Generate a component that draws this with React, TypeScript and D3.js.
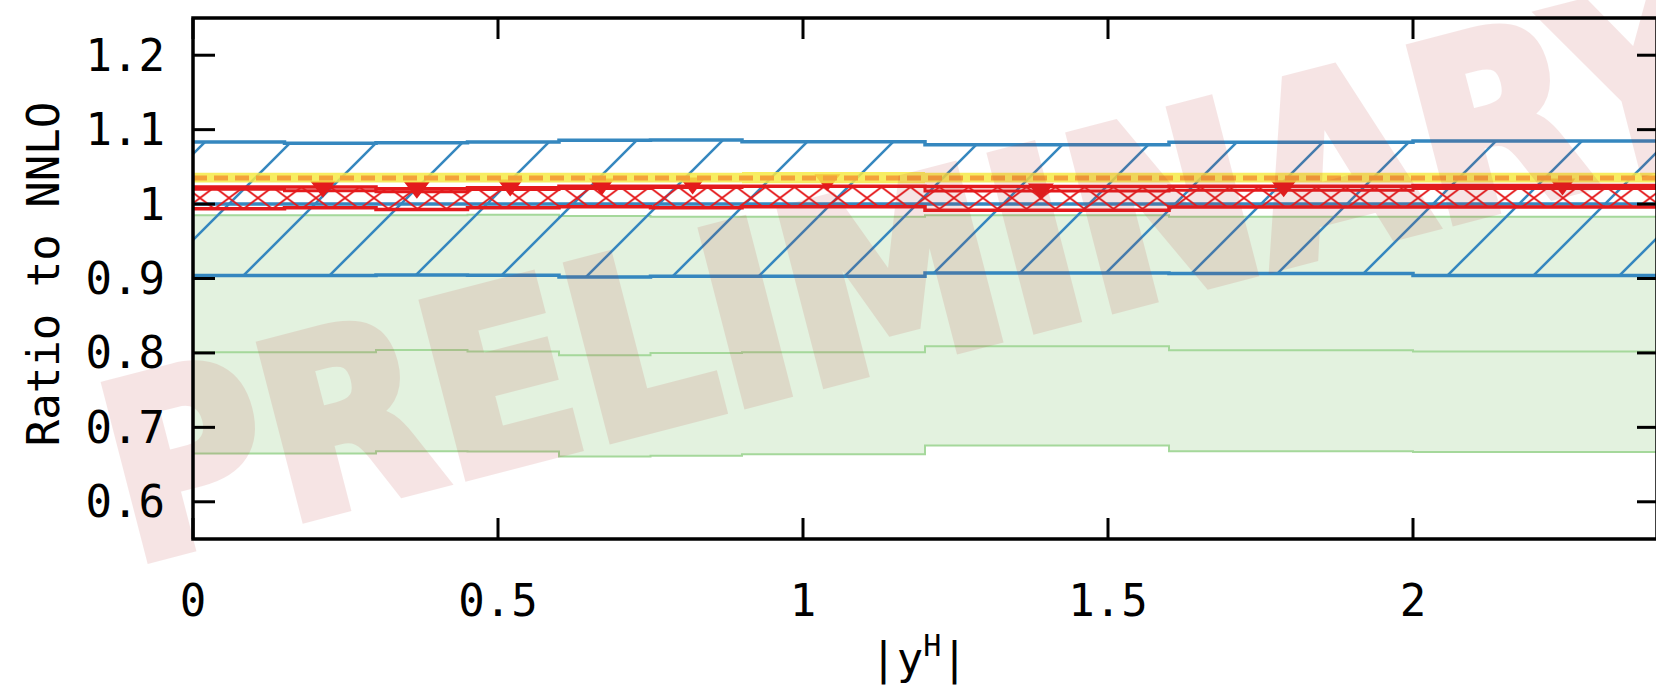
import React from "react";
import * as d3 from "d3";

// ---------- data ----------
const binEdges = [0, 0.15, 0.3, 0.45, 0.6, 0.75, 0.9, 1.2, 1.6, 2.0, 2.5];

const greenCentral = [0.801, 0.801, 0.804, 0.802, 0.797, 0.8, 0.801, 0.809, 0.8035, 0.802];
const greenLow = [0.665, 0.665, 0.668, 0.6675, 0.661, 0.662, 0.664, 0.6755, 0.668, 0.667];
const greenHigh = [0.985, 0.985, 0.985, 0.9855, 0.984, 0.983, 0.983, 0.985, 0.983, 0.983];

const blueCentral = [1.0, 1.0, 1.0, 1.0, 1.0, 1.0, 1.0, 1.0, 1.0, 1.0];
const blueLow = [0.9039, 0.9039, 0.9048, 0.9043, 0.9021, 0.903, 0.903, 0.9075, 0.9066, 0.904];
const blueHigh = [1.0834, 1.0816, 1.0825, 1.0834, 1.0856, 1.0861, 1.0838, 1.0798, 1.083, 1.0847];

const redLow = [0.9936, 0.995, 0.9927, 0.995, 0.9963, 0.995, 0.9963, 0.9918, 0.9959, 0.9959];
const redHigh = [1.0228, 1.0228, 1.0206, 1.0219, 1.0241, 1.0241, 1.0241, 1.0235, 1.024, 1.0248];
const redCentral = [1.02, 1.0179, 1.0166, 1.0197, 1.021, 1.0223, 1.0235, 1.0174, 1.0187, 1.021];

const markerX = [0.213, 0.367, 0.52, 0.67, 0.819, 1.04, 1.39, 1.788, 2.245];
const markerY = [1.0179, 1.0166, 1.0197, 1.021, 1.0223, 1.0265, 1.0143, 1.0187, 1.021];

const yellowLow = [1.029, 1.029, 1.029, 1.029, 1.029, 1.029, 1.028, 1.029, 1.029, 1.029];
const yellowHigh = [1.042, 1.042, 1.042, 1.042, 1.042, 1.042, 1.043, 1.042, 1.042, 1.042];
const orangeCentral = [1.035, 1.035, 1.035, 1.035, 1.035, 1.035, 1.035, 1.035, 1.035, 1.035];

const xTicks = [0, 0.5, 1, 1.5, 2];
const xTickLabels = ["0", "0.5", "1", "1.5", "2"];
const yTicks = [0.6, 0.7, 0.8, 0.9, 1.0, 1.1, 1.2];
const yTickLabels = ["0.6", "0.7", "0.8", "0.9", "1", "1.1", "1.2"];

// ---------- layout ----------
const W = 1656;
const H = 687;
const L = 193;
const R = 1657;
const T = 18;
const B = 539;

const x = d3.scaleLinear().domain([0, 2.4]).range([L, R]);
const y = d3.scaleLinear().domain([0.55, 1.25]).range([B, T]);

function stepPts(vals: number[]): [number, number][] {
  const pts: [number, number][] = [];
  vals.forEach((v, i) => {
    pts.push([binEdges[i], v]);
    pts.push([binEdges[i + 1], v]);
  });
  return pts;
}

function stepBand(lo: number[], hi: number[]) {
  const pts = lo.map((_, i) => i).flatMap((i) => [
    { x: binEdges[i], lo: lo[i], hi: hi[i] },
    { x: binEdges[i + 1], lo: lo[i], hi: hi[i] },
  ]);
  return d3
    .area<any>()
    .x((d) => x(d.x))
    .y0((d) => y(d.lo))
    .y1((d) => y(d.hi))(pts) as string;
}

const line = d3
  .line<[number, number]>()
  .x((d) => x(d[0]))
  .y((d) => y(d[1]));

const FONT = "'DejaVu Sans Mono', monospace";
const FS = 44;
const BLUE = "#3587bf";
const RED = "#e41a1c";
const GREEN_LINE = "#a5d89b";

export default function App() {
  return (
    <svg
      width={W}
      height={H}
      style={{ position: "absolute", left: 0, top: 0, background: "#fff" }}
    >
      <defs>
        <clipPath id="plotClip">
          <rect x={L} y={T} width={R - L} height={B - T} />
        </clipPath>
        <pattern
          id="blueHatch"
          patternUnits="userSpaceOnUse"
          width={86}
          height={86}
          patternTransform="translate(3,0)"
        >
          <path
            d="M-86,172 L172,-86 M-86,86 L86,-86 M0,172 L172,0"
            stroke={BLUE}
            strokeWidth={2.6}
            fill="none"
          />
        </pattern>
        <pattern
          id="redHatch"
          patternUnits="userSpaceOnUse"
          width={29}
          height={22}
          patternTransform="translate(185.5,187)"
        >
          <path
            d="M-29,-22 L58,44 M-29,44 L58,-22"
            stroke={RED}
            strokeWidth={1.8}
            fill="none"
          />
        </pattern>
      </defs>

      <g clipPath="url(#plotClip)">
        {/* green band */}
        <path d={stepBand(greenLow, greenHigh)} fill="#e3f2df" />
        <path d={line(stepPts(greenLow)) as string} fill="none" stroke={GREEN_LINE} strokeWidth={2} />
        <path d={line(stepPts(greenHigh)) as string} fill="none" stroke={GREEN_LINE} strokeWidth={2} />
        <path d={line(stepPts(greenCentral)) as string} fill="none" stroke={GREEN_LINE} strokeWidth={2} />

        {/* blue band */}
        <path d={stepBand(blueLow, blueHigh)} fill="url(#blueHatch)" />
        <path d={line(stepPts(blueLow)) as string} fill="none" stroke={BLUE} strokeWidth={3.5} />
        <path d={line(stepPts(blueHigh)) as string} fill="none" stroke={BLUE} strokeWidth={3.5} />
        <path d={line(stepPts(blueCentral)) as string} fill="none" stroke={BLUE} strokeWidth={3.5} />

        {/* red band */}
        <path d={stepBand(redLow, redHigh)} fill="url(#redHatch)" />
        <path d={line(stepPts(redLow)) as string} fill="none" stroke={RED} strokeWidth={3.5} />
        <path d={line(stepPts(redHigh)) as string} fill="none" stroke={RED} strokeWidth={3.5} />
        <path d={line(stepPts(redCentral)) as string} fill="none" stroke={RED} strokeWidth={3} />
        {markerX.map((mx, i) => {
          const cx = x(mx);
          const cy = y(markerY[i]);
          return (
            <path
              key={i}
              d={`M${cx - 13},${cy - 10} L${cx + 13},${cy - 10} L${cx},${cy + 7} Z`}
              fill={RED}
            />
          );
        })}

        {/* yellow band */}
        <path d={stepBand(yellowLow, yellowHigh)} fill="#f6ea45" fillOpacity={0.85} />
        <path
          d={line(stepPts(orangeCentral)) as string}
          fill="none"
          stroke="#f4a23a"
          strokeWidth={5}
          strokeDasharray="14 7"
        />
      </g>

      {/* watermark */}
      <g opacity={0.12} transform="translate(915 273) rotate(-14.5) scale(1.03 1.15)">
        <text
          x={0}
          y={0}
          textAnchor="middle"
          dominantBaseline="central"
          fontFamily="'DejaVu Sans', sans-serif"
          fontWeight="bold"
          fontSize={212}
          fill="rgb(185,45,45)"
          stroke="rgb(185,45,45)"
          strokeWidth={9}
          strokeLinejoin="miter"
        >
          PRELIMINARY
        </text>
      </g>

      {/* frame */}
      <rect x={L} y={T} width={R - L} height={B - T} fill="none" stroke="#000" strokeWidth={3.5} />

      {/* y ticks */}
      {yTicks.map((t, i) => (
        <g key={"y" + i}>
          <line x1={L} x2={L + 22} y1={y(t)} y2={y(t)} stroke="#000" strokeWidth={3} />
          <line x1={R - 20} x2={R} y1={y(t)} y2={y(t)} stroke="#000" strokeWidth={3} />
          <text
            x={165}
            y={y(t)}
            textAnchor="end"
            dominantBaseline="central"
            fontFamily={FONT}
            fontSize={FS}
          >
            {yTickLabels[i]}
          </text>
        </g>
      ))}

      {/* x ticks */}
      {xTicks.map((t, i) => (
        <g key={"x" + i}>
          <line x1={x(t)} x2={x(t)} y1={B} y2={B - 21} stroke="#000" strokeWidth={3} />
          <line x1={x(t)} x2={x(t)} y1={T} y2={T + 21} stroke="#000" strokeWidth={3} />
          <text
            x={x(t)}
            y={616}
            textAnchor="middle"
            fontFamily={FONT}
            fontSize={FS}
          >
            {xTickLabels[i]}
          </text>
        </g>
      ))}

      {/* axis titles */}
      <text
        x={43}
        y={274}
        transform="rotate(-90 43 274)"
        textAnchor="middle"
        dominantBaseline="central"
        fontFamily={FONT}
        fontSize={FS}
      >
        Ratio to NNLO
      </text>
      <text x={919} y={674} textAnchor="middle" fontFamily={FONT} fontSize={FS}>
        |y
        <tspan fontSize={30} dy={-18}>H</tspan>
        <tspan dy={18}>|</tspan>
      </text>
    </svg>
  );
}
